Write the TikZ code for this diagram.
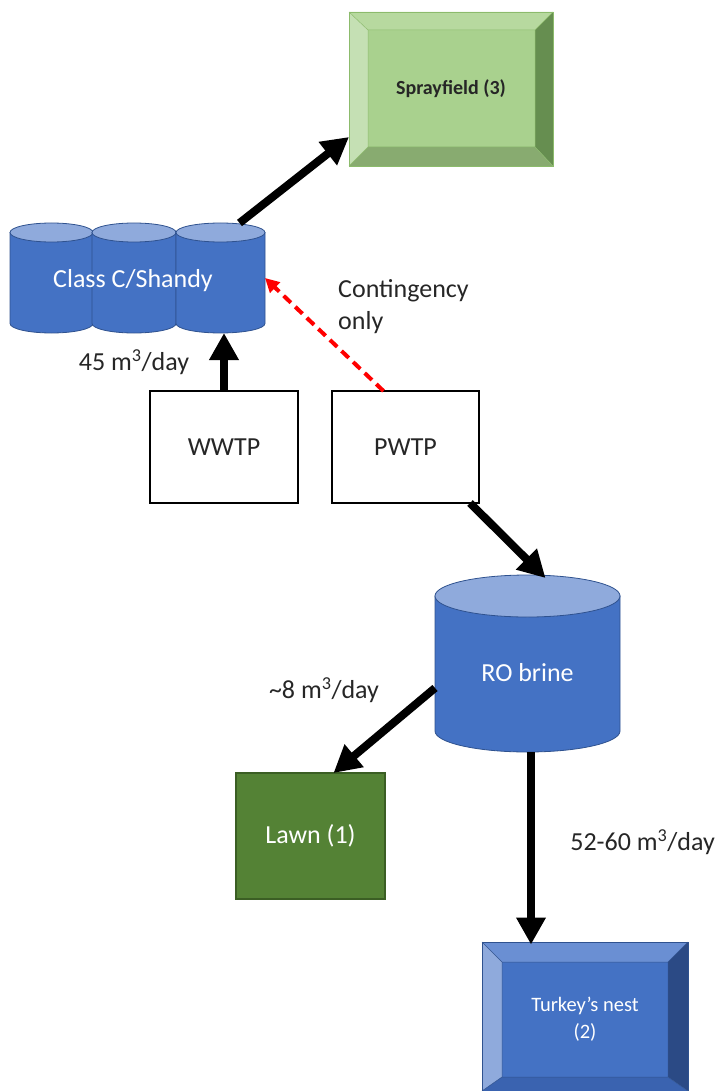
\documentclass[tikz,border=0pt]{standalone}
\usepackage{fontspec}
\setmainfont{Carlito}
\usetikzlibrary{arrows.meta,calc}
\definecolor{cylbody}{HTML}{4472C4}
\definecolor{cyltop}{HTML}{8FAADC}
\definecolor{cylline}{HTML}{2F528F}
\definecolor{spc}{HTML}{A9D18E}
\definecolor{spt}{HTML}{B7D99F}
\definecolor{spl}{HTML}{C5E0B4}
\definecolor{spr}{HTML}{668E50}
\definecolor{spb}{HTML}{88AB70}
\definecolor{spe}{HTML}{8CBB6C}
\definecolor{tkc}{HTML}{4472C4}
\definecolor{tkt}{HTML}{6A8FD3}
\definecolor{tkl}{HTML}{8FAADC}
\definecolor{tkr}{HTML}{2B4A85}
\definecolor{tkb}{HTML}{3A63B0}
\definecolor{tke}{HTML}{2F528F}
\definecolor{lawn}{HTML}{548235}
\definecolor{lawnline}{HTML}{3B5E24}
\definecolor{labelgray}{HTML}{262626}
\newcommand\mainsz{\fontsize{26}{32}\selectfont}
\newcommand\drawcyl[5]{%
  \pgfmathsetmacro\cylcx{(#1+#2)/2}%
  \pgfmathsetmacro\cylrx{(#2-#1)/2}%
  \filldraw[draw=cylline, line width=0.8pt, fill=cylbody] (#1,#3) -- (#1,#4)
    arc[start angle=180, end angle=0, x radius=\cylrx, y radius=#5] -- (#2,#3) -- cycle;
  \filldraw[draw=cylline, line width=0.8pt, fill=cyltop] (\cylcx,#3) ellipse[x radius=\cylrx, y radius=#5];
}
\newcommand\drawbevel[9]{%
  \fill[#9c] (#5,#6) rectangle (#7,#8);
  \fill[#9t] (#1,#2) -- (#3,#2) -- (#7,#6) -- (#5,#6) -- cycle;
  \fill[#9l] (#1,#2) -- (#5,#6) -- (#5,#8) -- (#1,#4) -- cycle;
  \fill[#9r] (#3,#2) -- (#3,#4) -- (#7,#8) -- (#7,#6) -- cycle;
  \fill[#9b] (#1,#4) -- (#5,#8) -- (#7,#8) -- (#3,#4) -- cycle;
  \draw[#9e, line width=0.5pt] (#5,#6) rectangle (#7,#8)
    (#1,#2) -- (#5,#6) (#3,#2) -- (#7,#6) (#1,#4) -- (#5,#8) (#3,#4) -- (#7,#8);
  \draw[#9e, line width=0.8pt] (#1,#2) rectangle (#3,#4);
}
\tikzset{
  region/.style={rectangle, inner sep=0pt, outer sep=0pt, align=center},
  boxw/.style={region, draw=black, line width=1.3pt, fill=white, font=\mainsz, text=labelgray},
  flow/.style={line width=8pt, black, -{Triangle[length=27pt,width=28pt]}},
  contingency/.style={line width=4pt, red, dash pattern=on 10pt off 6pt, -{Triangle[length=14pt,width=14pt]}},
  lbl/.style={font=\mainsz, text=labelgray, inner sep=0pt}
}
\begin{document}
\begin{tikzpicture}[x=1pt,y=-1pt]
\useasboundingbox (0,0) rectangle (717,1091);

% Sprayfield
\drawbevel{349}{12}{553}{166}{368}{30}{535}{147}{sp}
\node[region, minimum width=204, minimum height=154, font=\bfseries\fontsize{20}{24}\selectfont, text=black!85] (spray) at (451,89) {Sprayfield (3)};

% Class C / Shandy
\drawcyl{10}{93}{232.5}{323.5}{9.5}
\drawcyl{92}{176}{232.5}{323.5}{9.5}
\drawcyl{176}{265}{232.5}{323.5}{9.5}
\node[region, minimum width=255, minimum height=110] (cls) at (137.5,278) {};
\node[lbl, text=white] (clstext) at (133,281) {Class C/Shandy};

% Plants
\node[boxw, minimum width=148, minimum height=112] (wwtp) at (224,447) {WWTP};
\node[boxw, minimum width=147, minimum height=112] (pwtp) at (405.5,447) {PWTP};

% RO brine
\drawcyl{435}{620}{596}{731}{21}
\node[region, minimum width=185, minimum height=177] (ro) at (527.5,663.5) {};
\node[lbl, text=white] (rotext) at (527.5,673) {RO brine};

% Lawn
\node[region, draw=lawnline, line width=1.5pt, fill=lawn, minimum width=149, minimum height=126, text=white, font=\mainsz] (lawn) at (310.5,836) {Lawn (1)};

% Turkey's nest
\drawbevel{482}{942}{688}{1091}{502}{962}{668}{1077}{tk}
\node[region, minimum width=206, minimum height=149, text=white, font=\fontsize{20.5}{27}\selectfont] (turkey) at (585,1019) {Turkey’s nest\\(2)};

% Connectors
\draw[flow] ([xshift=102]cls.north) -- ([yshift=29]spray.south west);
\draw[flow] (wwtp.north) -- (wwtp.north |- cls.south);
\draw[contingency] ([xshift=-22]pwtp.north) -- (cls.east);
\draw[flow] ([xshift=-9]pwtp.south east) -- ([xshift=18,yshift=-3]ro.north);
\draw[flow] ([yshift=-24.5]ro.west) -- ([xshift=23]lawn.north);
\draw[flow] ([xshift=3.5]ro.south) -- ([xshift=-54]turkey.north);

% Labels
\node[lbl] (l45) at (134,362) {45 m\textsuperscript{3}/day};
\node[lbl] (l8) at (324,690) {\textasciitilde 8 m\textsuperscript{3}/day};
\node[lbl, anchor=east] (l52) at (715,842) {52-60 m\textsuperscript{3}/day};
\node[lbl, anchor=north west, align=left] (lcont) at (338,279) {Contingency\\only};
\end{tikzpicture}
\end{document}
